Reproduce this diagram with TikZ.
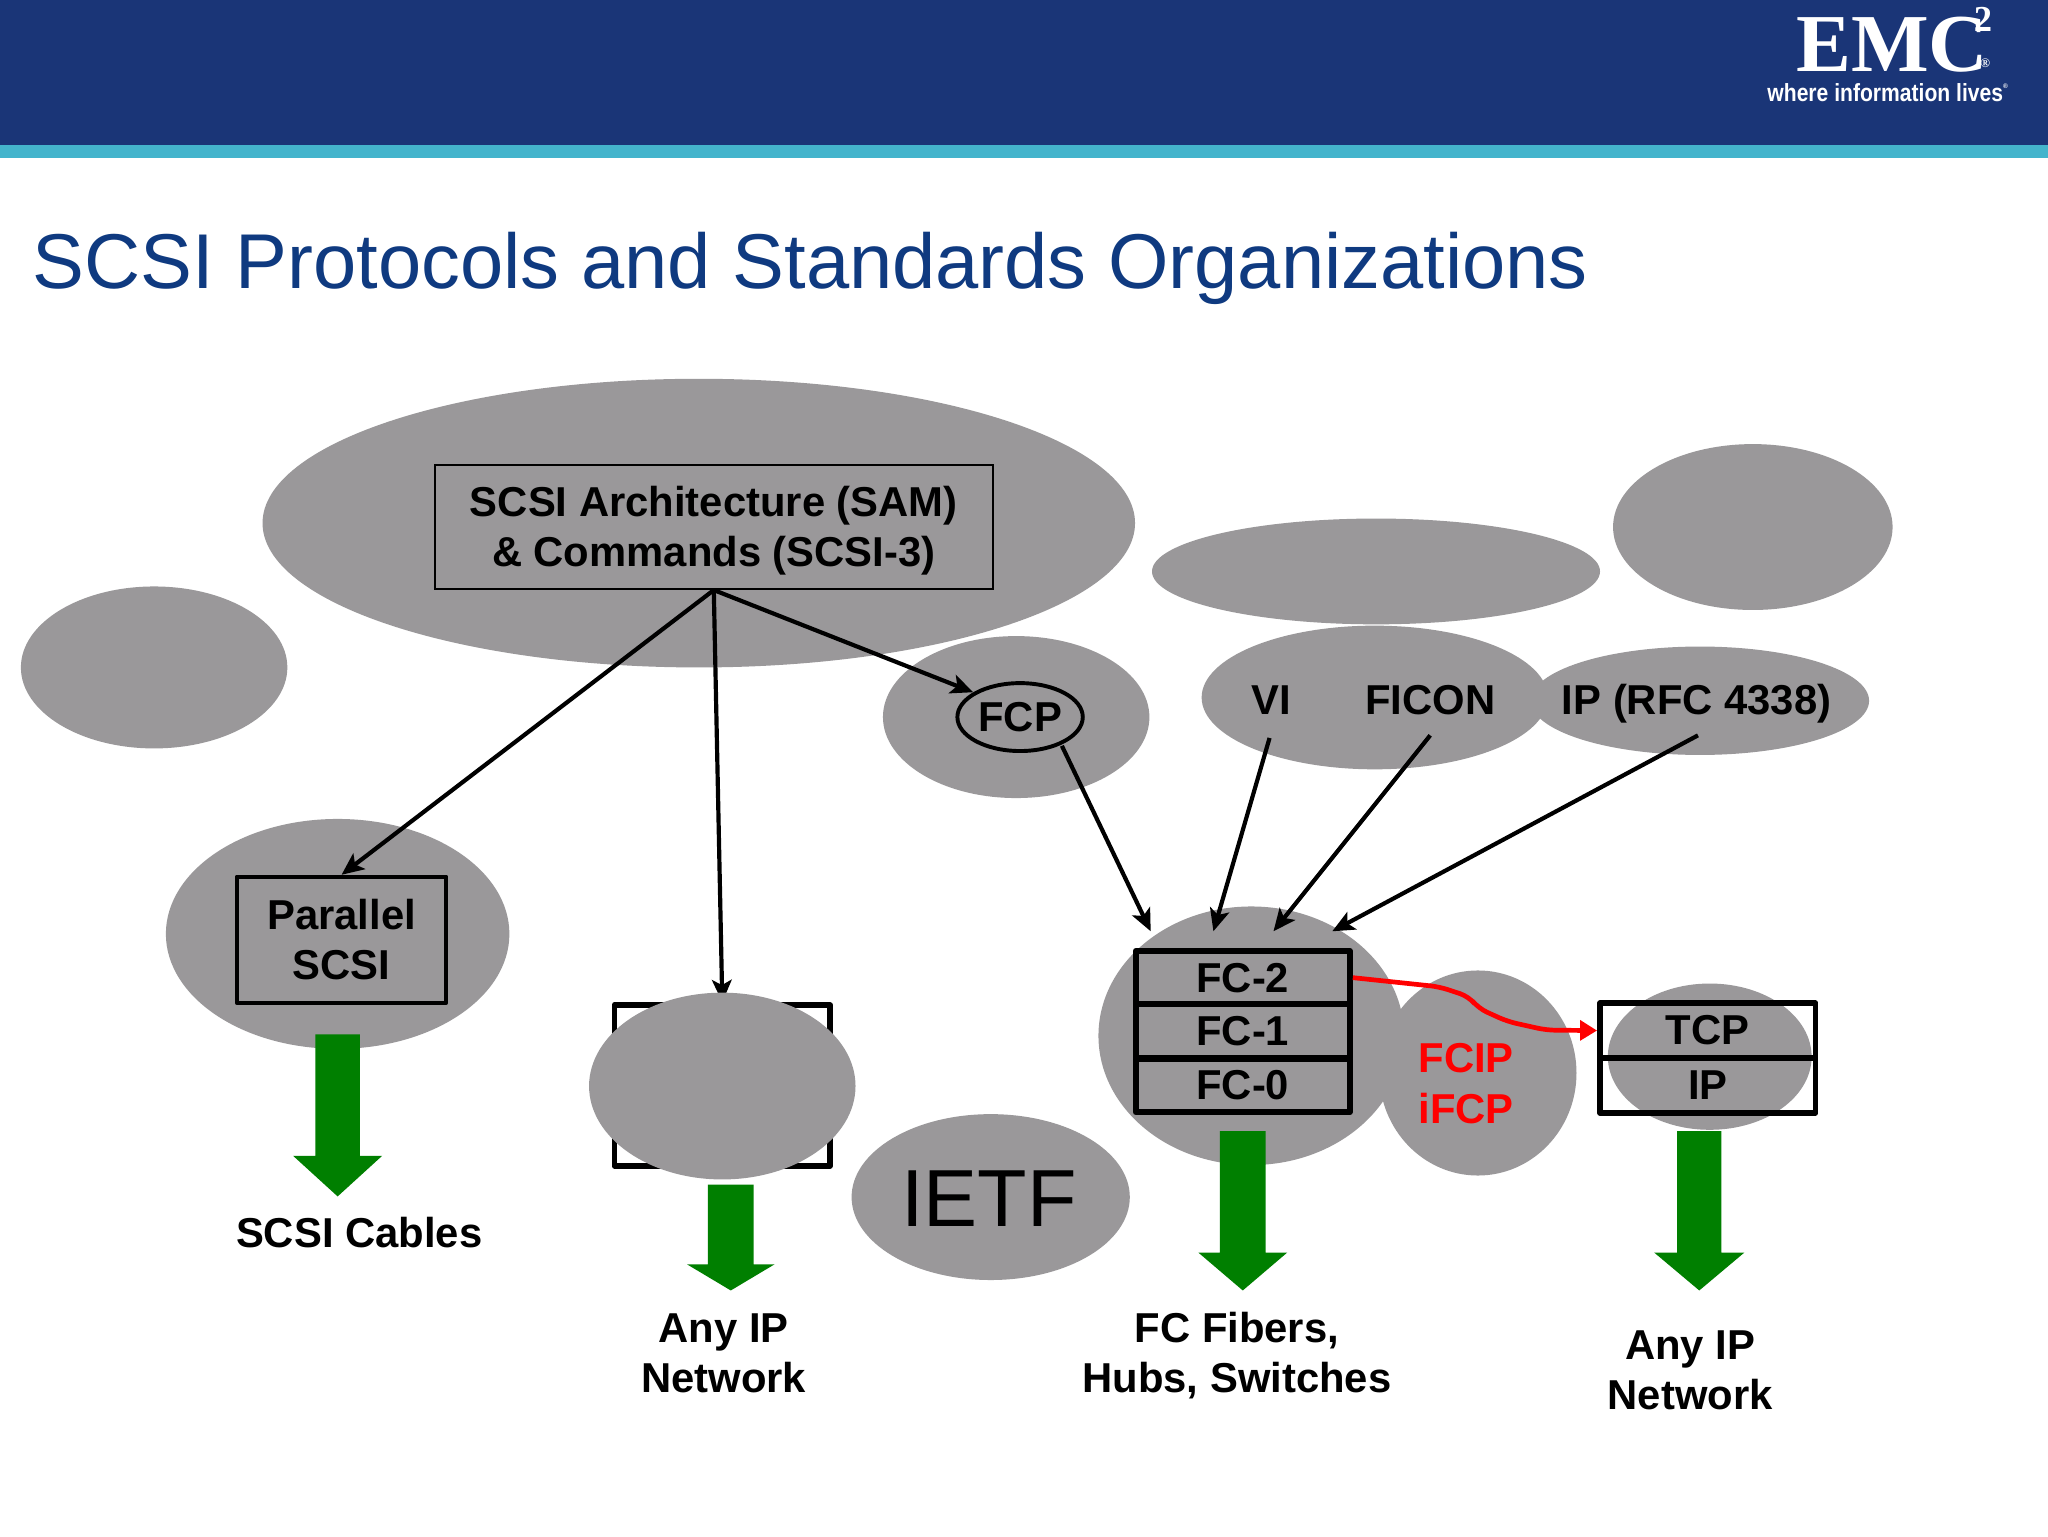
\documentclass[tikz,border=0pt]{standalone}
\usepackage{fontspec}
\usetikzlibrary{shapes.geometric,arrows.meta}
\setmainfont{Liberation Sans}
\newfontfamily\logofont{Liberation Serif}
\definecolor{headblue}{HTML}{1A3577}
\definecolor{stripe}{HTML}{44B4CC}
\definecolor{titleblue}{HTML}{0F3A80}
\definecolor{blob}{HTML}{9A989A}
\definecolor{downgreen}{HTML}{007F00}
\newcommand{\greendown}[6]{% x, half shaft, half head, top, base, tip
  \fill[downgreen] (#1-#2,#4) -- (#1+#2,#4) -- (#1+#2,#5) -- (#1+#3,#5) -- (#1,#6)
    -- (#1-#3,#5) -- (#1-#2,#5) -- cycle;}
\tikzset{
  blobby/.style={ellipse,fill=blob,inner sep=0pt},
  lab/.style={font=\fontsize{32}{38.5}\selectfont\bfseries,align=center,inner sep=0pt},
  thinbox/.style={draw,line width=1.5pt,lab},
  midbox/.style={draw,line width=3pt,line join=round,lab},
  layer/.style={draw,line width=4.5pt,line join=round,lab,minimum width=164pt,minimum height=41pt},
  tcplayer/.style={draw,line width=4.5pt,line join=round,lab,minimum width=165pt,minimum height=42pt},
  conn/.style={line width=3.2pt,-{Stealth[length=17pt,width=15pt,inset=4pt]}},
  redconn/.style={red,line width=3.6pt,-{Triangle[length=13pt,width=15pt]},rounded corners=7pt},
}
\begin{document}
\begin{tikzpicture}[x=1pt,y=-1pt]
  \useasboundingbox (0,0) rectangle (1568,1176);
  \fill[white] (0,0) rectangle (1568,1176);
  % header
  \fill[headblue] (0,0) rectangle (1568,111);
  \fill[stripe] (0,111) rectangle (1568,121);
  \node[white,inner sep=0pt,anchor=base west,font=\logofont\bfseries\fontsize{63}{63}\selectfont] (emc) at (1375,55)
    {EMC\kern-11pt\raisebox{31pt}{\fontsize{28}{28}\selectfont 2}\kern-9pt\raisebox{3pt}{\fontsize{10}{10}\selectfont ®}};
  \node[white,inner sep=0pt,anchor=base west,font=\bfseries\fontsize{19}{19}\selectfont] (tag) at (1353,78)
    {\scalebox{.85}[1]{where information lives}\raisebox{10pt}{\fontsize{5}{5}\selectfont ®}};
  \node[titleblue,inner sep=0pt,anchor=base west,font=\fontsize{59.5}{60}\selectfont] (title) at (25,221) {SCSI Protocols and Standards Organizations};

  % background ellipses
  \node[blobby,minimum width=668pt,minimum height=221pt] (esam) at (535,400.5) {};
  \node[blobby,minimum width=204pt,minimum height=124pt] (eleft) at (118,511) {};
  \node[blobby,minimum width=204pt,minimum height=124pt] (efcp) at (778,549) {};
  \node[blobby,minimum width=343pt,minimum height=81pt] (ewide) at (1053.5,437.5) {};
  \node[blobby,minimum width=214pt,minimum height=127pt] (etop) at (1342,403.5) {};
  \node[blobby,minimum width=265pt,minimum height=110pt] (evi) at (1052.5,534) {};
  \node[blobby,minimum width=259pt,minimum height=83pt] (eip) at (1301.5,536.5) {};
  \node[blobby,minimum width=263pt,minimum height=176pt] (epar) at (258.5,715) {};
  \node[blobby,minimum width=213pt,minimum height=127pt] (eietf) at (758.5,916.5) {};
  \node[blobby,minimum width=234pt,minimum height=198pt] (efc) at (958,793) {};
  \node[blobby,minimum width=151pt,minimum height=157pt] (efcip) at (1131.5,821.5) {};
  \node[blobby,minimum width=156pt,minimum height=112pt] (etcp) at (1309,809) {};

  % hidden network box, covered by its ellipse
  \node[draw,line width=4.5pt,line join=round,inner sep=0pt,minimum width=165pt,minimum height=123pt] (netbox) at (553,831) {};
  \node[thinbox,minimum width=427pt,minimum height=95pt] (sam) at (546.5,403.5) {\rule{0pt}{29pt}SCSI Architecture (SAM)\\\& Commands (SCSI-3)};
  \draw[conn] (sam.south) -- (netbox.north);
  \node[blobby,minimum width=204pt,minimum height=143pt] (enet) at (553,831.5) {};

  % boxes and labels
  \node[midbox,minimum width=160.5pt,minimum height=96.5pt] (par) at (261.5,719.5) {Parallel\\SCSI};
  \node[lab,ellipse,draw,line width=3pt,minimum width=96pt,minimum height=52pt] (fcp) at (781,549) {FCP};
  \node[lab] (vi) at (973,536) {VI};
  \node[lab] (ficon) at (1095,536) {FICON};
  \node[lab] (iprfc) at (1299,539) {IP (RFC 4338)};
  \node[layer] (fc2) at (951.5,748.5) {FC-2};
  \node[layer] (fc1) at (951.5,789.5) {FC-1};
  \node[layer] (fc0) at (951.5,831) {FC-0};
  \node[lab,red] (fcip) at (1122.5,829.5) {FCIP\\[1pt]iFCP};
  \node[tcplayer] (tcp) at (1307.5,789) {TCP};
  \node[tcplayer] (ip) at (1307.5,831) {IP};
  \node[lab,font=\fontsize{62}{62}\selectfont] (ietf) at (757,918) {IETF};
  \node[lab] (cables) at (275,944) {SCSI Cables};
  \node[lab] (anyip) at (554,1036) {Any IP\\Network};
  \node[lab] (fibers) at (947,1038) {FC Fibers,\\Hubs, Switches};
  \node[lab] (anyip2) at (1294,1049) {Any IP\\Network};

  % connector end points
  \coordinate (fcpin) at (745,530);
  \coordinate (fcpout) at (813,571);
  \coordinate (viout) at (972,565);
  \coordinate (ficonout) at (1095,563);
  \coordinate (ipout) at (1300,563);
  \coordinate (fcina) at (881,713);
  \coordinate (fcinb) at (929,713);
  \coordinate (fcinc) at (975,713);
  \coordinate (fcind) at (1020,713);

  \draw[conn] (sam.south) -- (par.north);
  \draw[conn] (sam.south) -- (fcpin);
  \draw[conn] (fcpout) -- (fcina);
  \draw[conn] (viout) -- (fcinb);
  \draw[conn] (ficonout) -- (fcinc);
  \draw[conn] (ipout) -- (fcind);
  \draw[redconn] (fc2.east) -- (1102,755.5) -- (1124.6,763) -- (1132,772) -- (1154,782) -- (1184,788.7) -- (tcp.west);

  % green arrows
  \greendown{258.5}{17}{34}{792}{885}{916}
  \greendown{559.5}{17.5}{33.5}{907}{968}{988}
  \greendown{951.5}{17.5}{34}{866}{959}{988}
  \greendown{1301}{17}{34.5}{866}{959}{988}
\end{tikzpicture}
\end{document}
